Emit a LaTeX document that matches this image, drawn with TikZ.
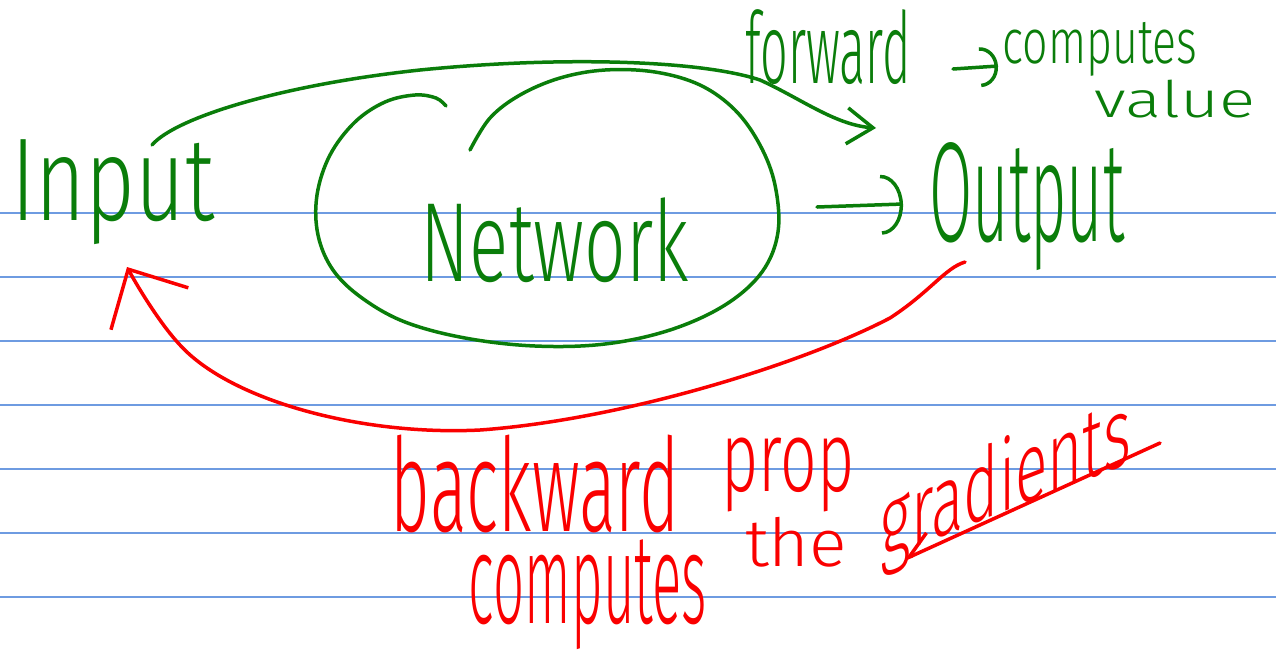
\documentclass[tikz,border=0pt]{standalone}
\usepackage{fontspec}
\setmainfont{Fira Sans Light}
\usetikzlibrary{arrows.meta}
\definecolor{pen}{RGB}{10,125,10}
\definecolor{redpen}{RGB}{250,0,0}
\definecolor{rulecol}{RGB}{110,155,225}
\tikzset{
  hw/.style={inner sep=0pt, outer sep=0pt},
  gtext/.style={hw, text=pen},
  rtext/.style={hw, text=redpen},
  gstroke/.style={draw=pen, line width=3.5pt, line cap=round, line join=round},
  rstroke/.style={draw=redpen, line width=3.5pt, line cap=round, line join=round},
  ruleline/.style={draw=rulecol, line width=1.3pt},
}
\newcommand{\fitbox}[3]{\resizebox*{#1}{#2}{#3}}
\begin{document}
\begin{tikzpicture}[x=1pt,y=-1pt]
\useasboundingbox (0,0) rectangle (1276,657);
\fill[white] (0,0) rectangle (1276,657);
% ruled lines
\foreach \yy in {213,277,341,405,469,533,597}
  \draw[ruleline] (0,\yy) -- (1276,\yy);

% texts
\node[gtext] (input) at (113,192) {\fitbox{203pt}{105pt}{Input}};
\node[gtext] (network) at (555,240) {\fitbox{268pt}{85pt}{Network}};
\node[gtext] (output) at (1027,207) {\fitbox{195pt}{128pt}{Output}};
\node[gtext] (forward) at (828,47) {\fitbox{165pt}{75pt}{forward}};
\node[gtext] (computes) at (1100,49) {\fitbox{195pt}{54pt}{computes}};
\node[gtext] (value) at (1175,99) {\fitbox{160pt}{38pt}{value}};
\node[rtext] (backward) at (535,484) {\fitbox{288pt}{98pt}{backward}};
\node[rtext] (prop) at (788,475) {\fitbox{133pt}{74pt}{prop}};
\node[rtext] (computes2) at (588,595) {\fitbox{238pt}{110pt}{computes}};
\node[rtext] (the) at (796,542) {\fitbox{102pt}{50pt}{the}};
\node[rtext, yslant=0.39] (gradients) at (1006,484) {\fitbox{250pt}{95pt}{gradients}};

% network loop
\draw[gstroke] plot[smooth, tension=0.6] coordinates {
 (446,106) (436,98) (415,95) (385,102) (355,122) (330,155) (317,195)
 (318,235) (333,270) (362,298) (405,322) (465,338) (535,346) (605,344)
 (670,330) (725,305) (762,272) (778,232) (775,185) (760,145) (735,110)
 (700,85) (655,72) (605,70) (560,78) (520,95) (490,118) (470,150)};

% connector points
\coordinate (netR) at (817,207);
\coordinate (outL) at (903,204);
\coordinate (fwdS) at (152,145);
\coordinate (fwdE) at (876,128);
\coordinate (fwR) at (953,69);
\coordinate (cpL) at (998,66);
\coordinate (bkS) at (965,262);
\coordinate (bkE) at (127,267);
\coordinate (grA) at (1160,443);
\coordinate (grB) at (903,560);

% network -> output
\draw[gstroke, -{Arc Barb[length=22pt,width=60pt]}] (netR) -- (outL);
% forward -> computes
\draw[gstroke, -{Arc Barb[length=18pt,width=40pt]}] (fwR) -- (cpL);
% forward arc
\draw[gstroke, -{Straight Barb[length=26pt,width=36pt]}] (fwdS)
  .. controls (175,118) and (280,85) .. (420,70)
  .. controls (560,56) and (700,60) .. (760,80)
  .. controls (800,98) and (835,125) .. (fwdE);
% backward arc
\draw[rstroke, -{Straight Barb[length=45pt,width=88pt]}] (bkS)
  .. controls (945,268) and (930,292) .. (890,318)
  .. controls (800,365) and (620,420) .. (480,430)
  .. controls (360,436) and (230,400) .. (180,345)
  .. controls (162,326) and (140,291) .. (bkE);
% arrow to gradients
\draw[rstroke, -{Straight Barb[harpoon,swap,length=26pt,width=30pt]}] (grA) -- (grB);
\end{tikzpicture}
\end{document}
